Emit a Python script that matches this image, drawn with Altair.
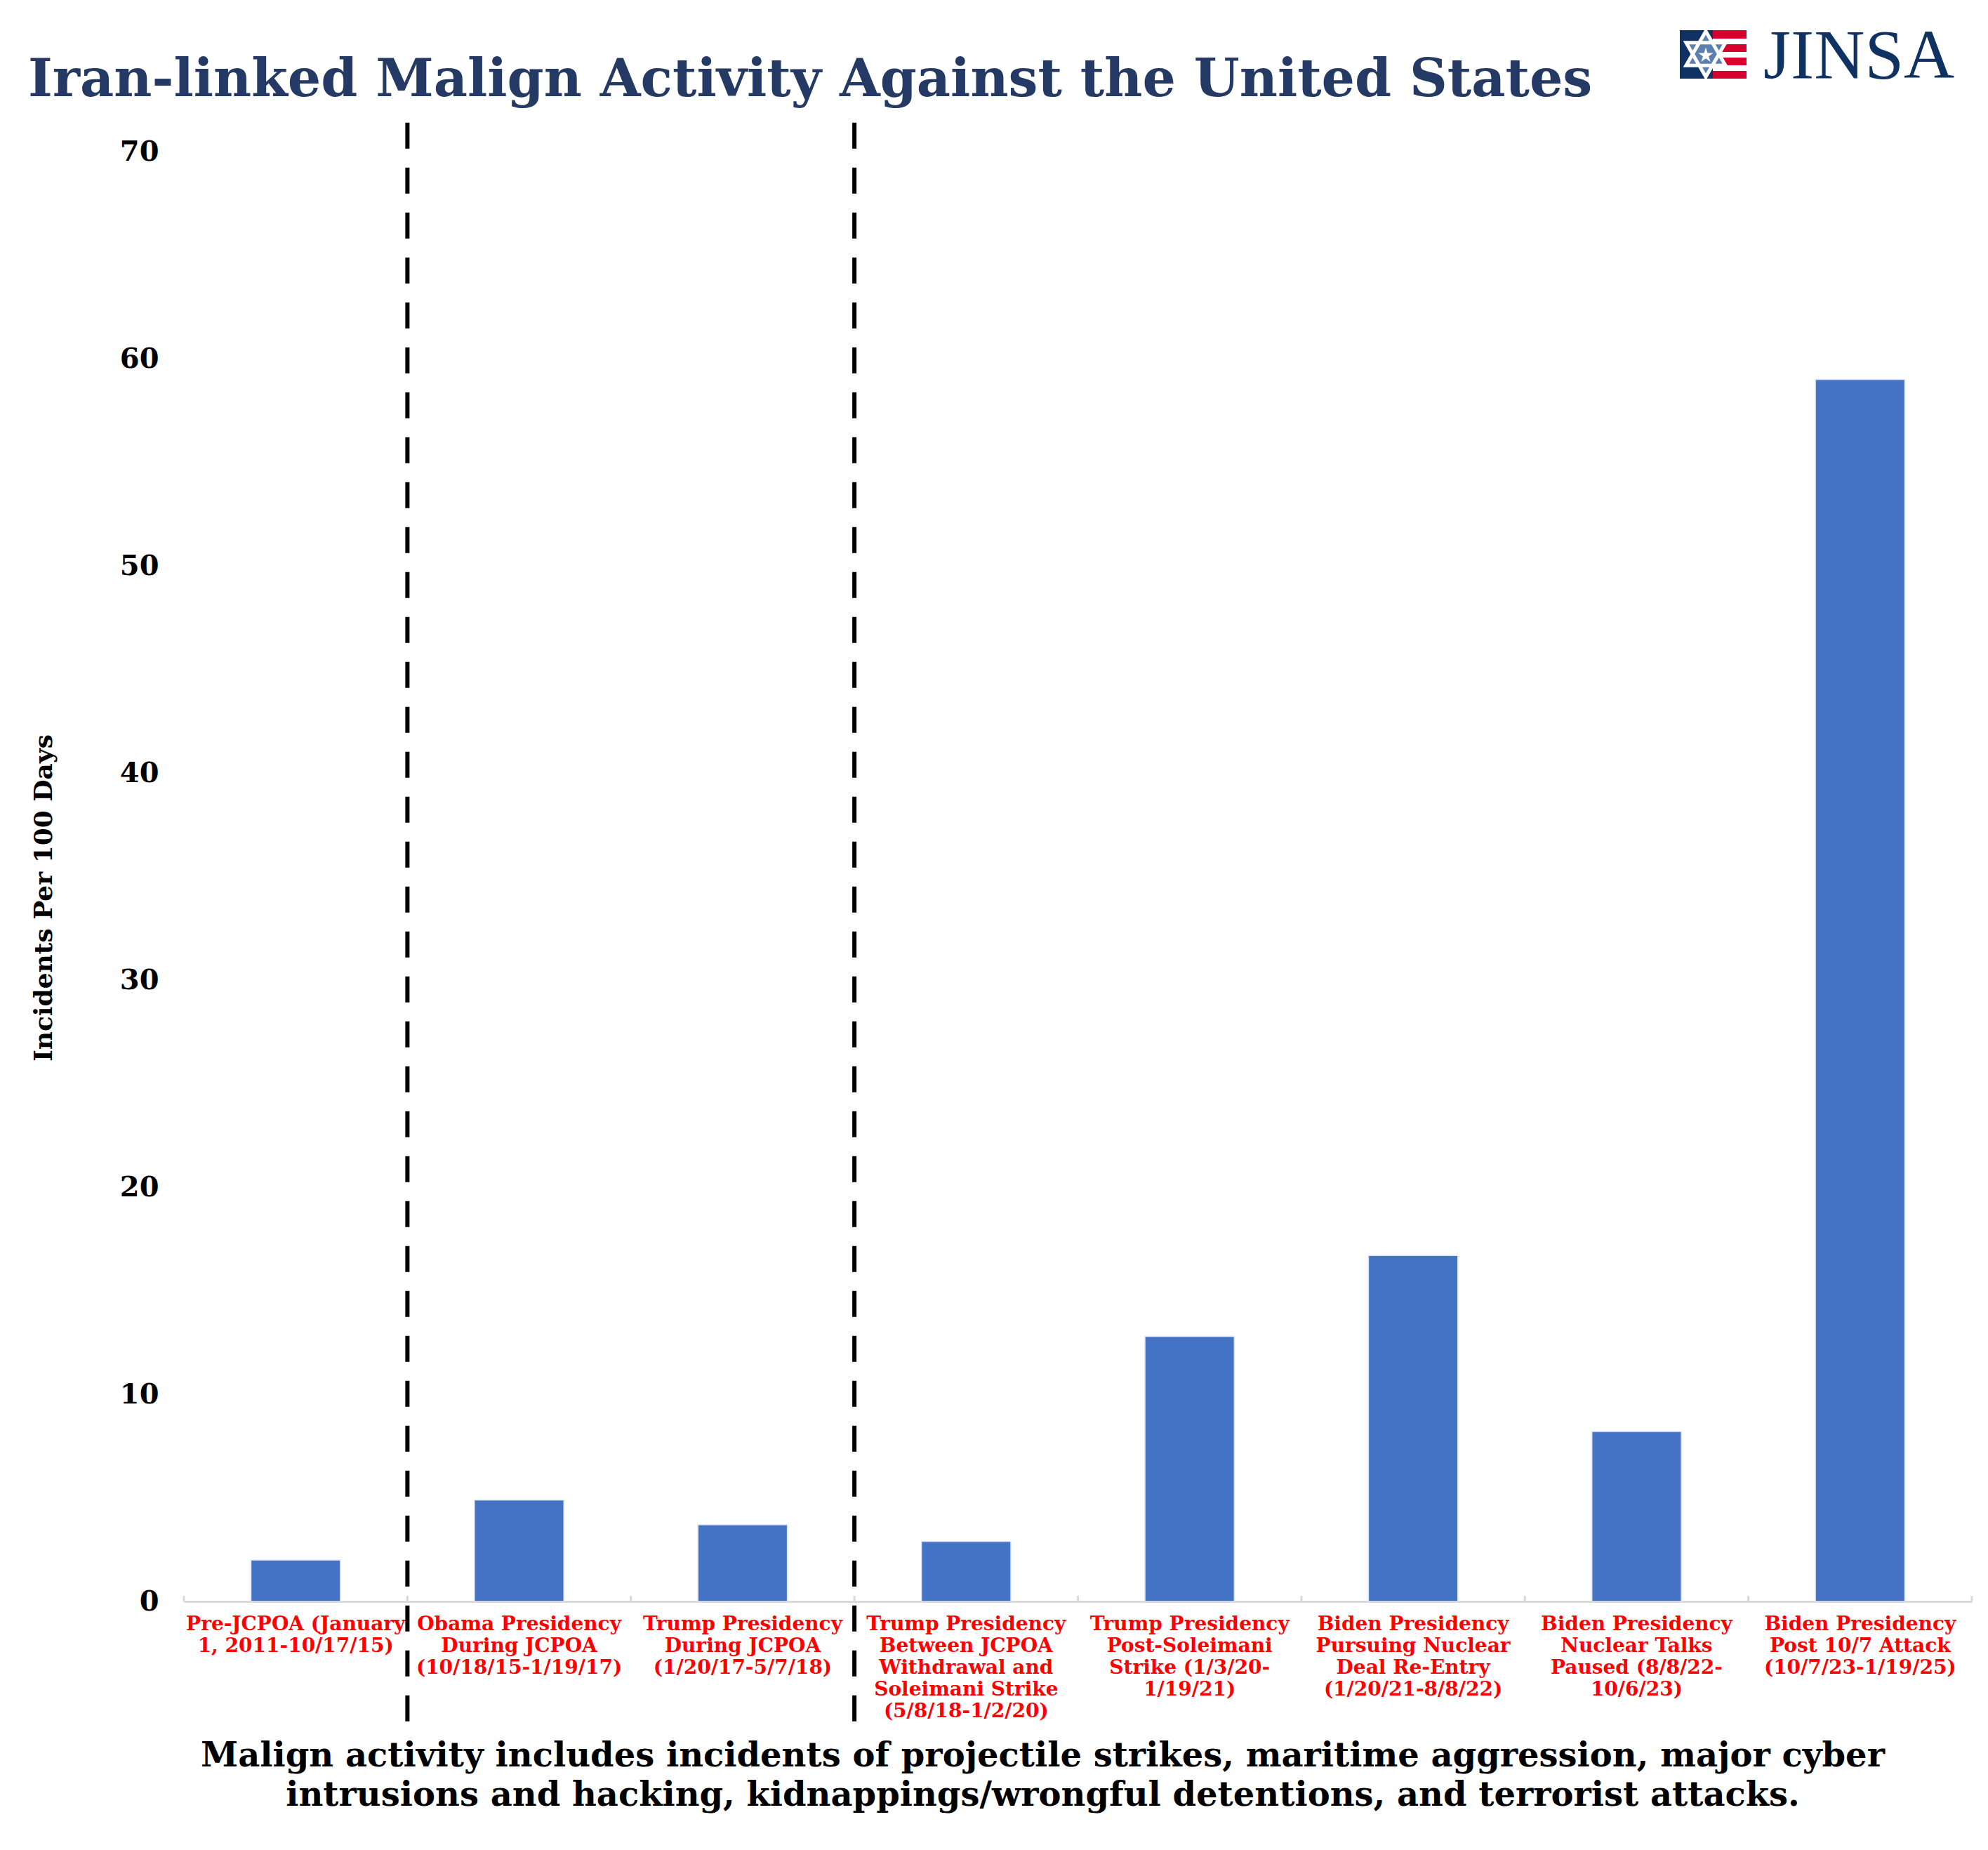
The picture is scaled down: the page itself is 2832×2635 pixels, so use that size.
import altair as alt
import pandas as pd

# ---------------- data ----------------
categories = [
    "Pre-JCPOA (January|1, 2011-10/17/15)",
    "Obama Presidency|During JCPOA|(10/18/15-1/19/17)",
    "Trump Presidency|During JCPOA|(1/20/17-5/7/18)",
    "Trump Presidency|Between JCPOA|Withdrawal and|Soleimani Strike|(5/8/18-1/2/20)",
    "Trump Presidency|Post-Soleimani|Strike (1/3/20-|1/19/21)",
    "Biden Presidency|Pursuing Nuclear|Deal Re-Entry|(1/20/21-8/8/22)",
    "Biden Presidency|Nuclear Talks|Paused (8/8/22-|10/6/23)",
    "Biden Presidency|Post 10/7 Attack|(10/7/23-1/19/25)",
]
values = [2.0, 4.9, 3.7, 2.9, 12.8, 16.7, 8.2, 59.0]
y_ticks = [0, 10, 20, 30, 40, 50, 60, 70]
divider_positions = [1, 3]          # band boundaries (in category steps)
divider_top, divider_bottom = 71.4, -6.1
boundary_ticks = list(range(0, 9))

TITLE = "Iran-linked Malign Activity Against the United States"
Y_TITLE = "Incidents Per 100 Days"
CAPTION = [
    "Malign activity includes incidents of projectile strikes, maritime aggression, major cyber",
    "intrusions and hacking, kidnappings/wrongful detentions, and terrorist attacks.",
]
LOGO = "JINSA"

SERIF = "DejaVu Serif"
NAVY = "#243a64"

W, H = 2547, 2065

df = pd.DataFrame({"cat": categories, "val": values})
div_df = pd.DataFrame({"pos": divider_positions,
                       "top": [divider_top] * len(divider_positions),
                       "bot": [divider_bottom] * len(divider_positions)})
tick_df = pd.DataFrame({"pos": boundary_ticks, "y0": [0.0] * 9, "y1": [0.27] * 9})

yscale = alt.Scale(domain=[0, 70], nice=False, zero=True)
qx = alt.Scale(domain=[0, 8], nice=False, zero=False)

y_axis = alt.Axis(values=y_ticks, title=Y_TITLE,
                  titleFont=SERIF, titleFontSize=36, titleFontWeight="bold",
                  titleColor="black", titleX=-189, titleY=H / 2 + 30,
                  titleBaseline="alphabetic", titleAngle=-90, titleAlign="center",
                  labelFont=SERIF, labelFontSize=40, labelFontWeight="bold",
                  labelColor="black", labelPadding=36,
                  ticks=False, tickSize=0, domain=False, grid=False)

bars = alt.Chart(df).mark_bar(color="#4472c4", stroke="#dbe4f3", strokeWidth=1.5).encode(
    x=alt.X("cat:N", sort=categories,
            scale=alt.Scale(paddingInner=0.6, paddingOuter=0.3),
            axis=alt.Axis(
                title=CAPTION,
                titleFont=SERIF, titleFontSize=48, titleFontWeight="bold", titleColor="black",
                titleLineHeight=56, titleX=1223, titleY=196, titleAlign="center",
                titleBaseline="top", titleAnchor="middle",
                labelExpr="split(datum.label, '|')",
                labelFont=SERIF, labelFontSize=28, labelFontWeight="bold", labelColor="#ff0000",
                labelLineHeight=31, labelPadding=18, labelAngle=0, labelBaseline="top",
                labelLimit=400, labelOverlap=False, labelBound=False,
                ticks=False, tickSize=0,
                domain=True, domainColor="#d9d9d9", domainWidth=3,
                grid=False)),
    y=alt.Y("val:Q", scale=yscale, axis=y_axis),
)

dividers = alt.Chart(div_df).mark_rule(color="black", strokeWidth=6, strokeDash=[37, 27]).encode(
    x=alt.X("pos:Q", scale=qx, axis=None),
    y=alt.Y("top:Q", scale=yscale, axis=y_axis),
    y2="bot:Q",
)

ticks = alt.Chart(tick_df).mark_rule(color="#d9d9d9", strokeWidth=3).encode(
    x=alt.X("pos:Q", scale=qx, axis=None),
    y=alt.Y("y0:Q", scale=yscale, axis=y_axis),
    y2="y1:Q",
)

title = alt.Chart(pd.DataFrame({"t": [TITLE]})).mark_text(
    font=SERIF, fontSize=74.5, fontWeight="bold", color=NAVY, align="left", baseline="alphabetic"
).encode(text="t:N", x=alt.value(-222), y=alt.value(-79))

logo_text = alt.Chart(pd.DataFrame({"t": [LOGO]})).mark_text(
    font="Liberation Serif", fontSize=100, color="#0f3262", align="left", baseline="alphabetic"
).encode(text="t:N", x=alt.value(2250), y=alt.value(-105))

# flag of the logo (decoration)
flag_layers = [
    alt.Chart(pd.DataFrame({"k": [0]})).mark_rect(color="#0f3262").encode(
        x=alt.value(2131), x2=alt.value(2178), y=alt.value(-173), y2=alt.value(-104))
]
for (a, b) in [(-173, -161), (-153, -142), (-134, -123), (-115, -104)]:
    flag_layers.append(
        alt.Chart(pd.DataFrame({"k": [0]})).mark_rect(color="#d7002d").encode(
            x=alt.value(2178), x2=alt.value(2226), y=alt.value(a), y2=alt.value(b)))
HEX = "M0,-1L0.866,0.5L-0.866,0.5Z M0,1L-0.866,-0.5L0.866,-0.5Z"
STAR5 = ("M0,-1L0.225,-0.309L0.951,-0.309L0.363,0.118L0.588,0.809L0,0.382"
         "L-0.588,0.809L-0.363,0.118L-0.951,-0.309L-0.225,-0.309Z")
flag_layers.append(
    alt.Chart(pd.DataFrame({"k": [0]})).mark_point(
        shape=HEX, filled=True, fill="#5b7fae", stroke="white", strokeWidth=5, size=4200, opacity=1
    ).encode(x=alt.value(2168), y=alt.value(-139)))
flag_layers.append(
    alt.Chart(pd.DataFrame({"k": [0]})).mark_point(
        shape=STAR5, filled=True, fill="white", strokeWidth=0, size=500, opacity=1
    ).encode(x=alt.value(2168), y=alt.value(-137)))

chart = alt.layer(bars, dividers, ticks, title, logo_text, *flag_layers).resolve_scale(
    x="independent"
).properties(
    width=W, height=H,
    autosize=alt.AutoSizeParams(type="none"),
    padding={"left": 254, "top": 208, "right": 15, "bottom": 346},
    background="white",
).configure_view(stroke=None)

chart.save("out.html", embed_options={"renderer": "svg", "actions": False})
